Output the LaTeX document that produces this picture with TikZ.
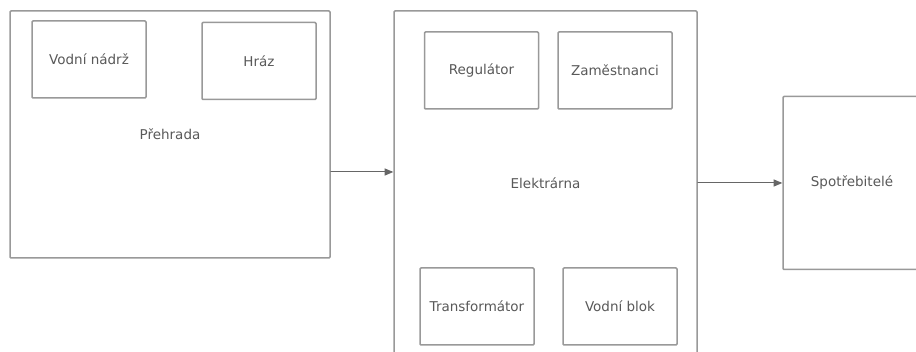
\documentclass[tikz,border=0pt]{standalone}
\usepackage{fontspec}
\setmainfont{DejaVu Sans}
\usetikzlibrary{arrows}

\begin{document}
\begin{tikzpicture}[x=1pt, y=-1pt, line cap = round, line join = round, >=triangle 45]
\tikzstyle{outer}=[draw=gray!80, line width=1.5pt, rectangle, rounded corners=1pt, font=\fontsize{13.5}{15}\selectfont, text=black!65]
\tikzstyle{inner}=[draw=gray!80, line width=1.5pt, rectangle, rounded corners=1pt, minimum width=114pt, minimum height=77pt, font=\fontsize{13.5}{15}\selectfont, text=black!65]
\tikzstyle{link}=[draw=black!60, line width=1pt, ->]
\useasboundingbox (0,0) rectangle (916,352);
\clip (0,0) rectangle (916,352);
\fill[white] (0,0) rectangle (916,352);

% containers
\node[outer, minimum width=320pt, minimum height=247pt] (prehrada) at (170,134.5) {Přehrada};
\node[outer, minimum width=303pt, minimum height=344pt] (elektrarna) at (545.5,183) {Elektrárna};
\node[outer, minimum width=138pt, minimum height=173pt] (spotrebitele) at (852,183) {Spotřebitelé};

% parts of the dam
\node[inner] (nadrz) at (89,59.5) {Vodní nádrž};
\node[inner] (hraz) at (259,61) {Hráz};

% parts of the plant
\node[inner] (regulator) at (481.5,70.5) {Regulátor};
\node[inner] (zamestnanci) at (615,70.5) {Zaměstnanci};
\node[inner] (transformator) at (477,306.5) {Transformátor};
\node[inner] (blok) at (620,306.5) {Vodní blok};

\draw[link] ([yshift=-37.5pt]prehrada.east) -- ([yshift=11pt]elektrarna.west);
\draw[link] (elektrarna.east) -- (spotrebitele.west);
\end{tikzpicture}
\end{document}
